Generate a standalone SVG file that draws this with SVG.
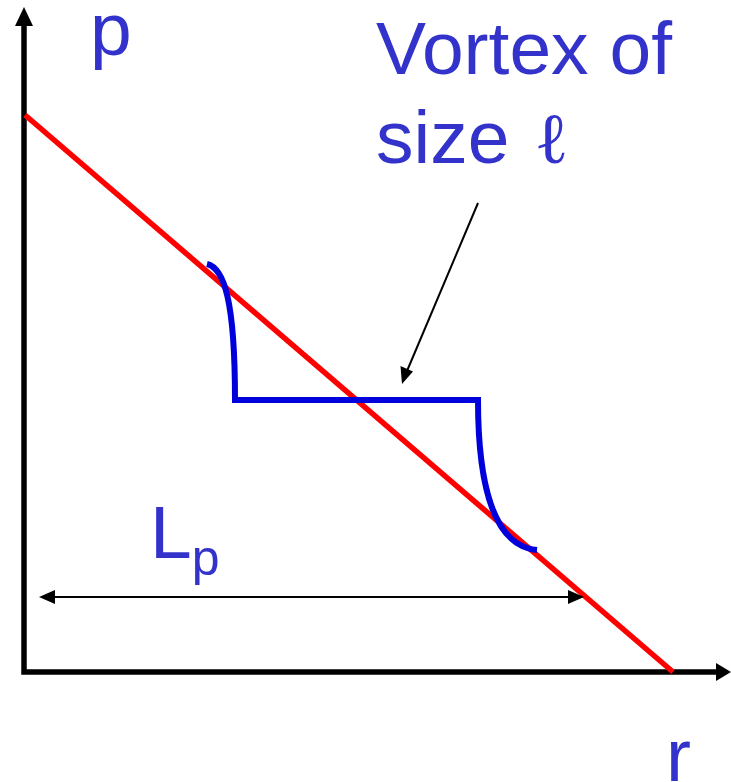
<svg xmlns="http://www.w3.org/2000/svg" width="731" height="782" viewBox="0 0 731 782">
<style>
.lbl{font-family:"Liberation Sans",Arial,sans-serif;fill:#3333CC;font-size:75px}
.axis{stroke:#000;stroke-width:5.5;fill:none}
.thin{stroke:#000;stroke-width:2;fill:none}
</style>
<rect width="731" height="782" fill="#fff"/>
<g id="axes">
<path class="axis" d="M24,25 V672 H717"/>
<path d="M24,7 L15,26 L33,26 Z" fill="#000"/>
<path d="M731,672 L716,663 L716,681 Z" fill="#000"/>
</g>
<g id="line">
<line x1="25" y1="115" x2="673" y2="672" stroke="#FF0000" stroke-width="5.5"/>
</g>
<g id="vortex">
<path d="M207,264 C224,268 235,300 235,400 H478 C478,480 492,546 537,550" stroke="#0000DD" stroke-width="6" fill="none"/>
</g>
<g id="connectors">
<line class="thin" x1="52" y1="597" x2="570" y2="597"/>
<path d="M39,597 L55,590 L55,604 Z" fill="#000"/>
<path d="M584,597 L568,590 L568,604 Z" fill="#000"/>
<line class="thin" x1="478" y1="203" x2="407" y2="371" stroke-width="1.8"/>
<path d="M402,384 L400.5,366 L413,371.5 Z" fill="#000"/>
</g>
<g id="labels">
<text class="lbl" x="90" y="55">p</text>
<text class="lbl" x="376" y="74" font-size="74">Vortex of</text>
<text class="lbl" x="376" y="163" font-size="74">size <tspan font-family="'DejaVu Serif','Liberation Serif',serif" font-size="72" dx="4">ℓ</tspan></text>
<text class="lbl" x="150" y="558">L<tspan font-size="50" dy="17">p</tspan></text>
<text class="lbl" x="666" y="781">r</text>
</g>
</svg>
